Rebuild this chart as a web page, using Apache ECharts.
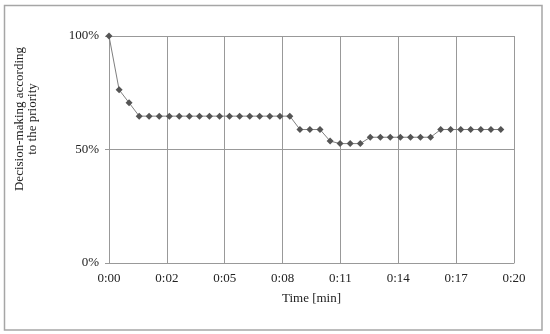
<!DOCTYPE html>
<html>
<head>
<meta charset="utf-8">
<script src="https://cdn.jsdelivr.net/npm/echarts@6/dist/echarts.min.js"></script>
<style>html,body{margin:0;padding:0;background:#fff;}#c{width:550px;height:334px;}</style>
</head>
<body>
<div id="c"></div>
<script>
// time of each observation, minutes
var times = [0, 0.50, 0.99, 1.49, 1.98, 2.48, 2.98, 3.47, 3.97, 4.47,
             4.96, 5.46, 5.95, 6.45, 6.95, 7.44, 7.94, 8.44, 8.93, 9.43,
             9.92, 10.42, 10.92, 11.41, 11.91, 12.41, 12.90, 13.40, 13.89, 14.39,
             14.89, 15.38, 15.88, 16.38, 16.87, 17.37, 17.86, 18.36, 18.86, 19.35];
// decision-making according to the priority, %
var shares = [100, 76.3, 70.6, 64.7, 64.7, 64.7, 64.7, 64.7, 64.7, 64.7,
              64.7, 64.7, 64.7, 64.7, 64.7, 64.7, 64.7, 64.7, 64.7, 58.8,
              58.8, 58.8, 53.7, 52.6, 52.6, 52.6, 55.4, 55.4, 55.4, 55.4,
              55.4, 55.4, 55.4, 58.8, 58.8, 58.8, 58.8, 58.8, 58.8, 58.8];
var xMin = 0, xMax = 20, xSteps = 7;
var yTicks = [0, 50, 100];
var xTitle = 'Time [min]';
var yTitleLines = ['Decision-making according', 'to the priority'];

var data = times.map(function (t, i) { return [t, shares[i]]; });
var font = 'Liberation Serif';
var chart = echarts.init(document.getElementById('c'));
chart.setOption({
  animation: false,
  backgroundColor: '#fff',
  grid: { left: 109, right: 36, top: 36, bottom: 71, containLabel: false },
  graphic: [
    { type: 'rect', shape: { x: 4.5, y: 5.5, width: 537.5, height: 324.5 },
      style: { fill: 'none', stroke: '#a6a6a6', lineWidth: 1.5 }, silent: true },
    { type: 'text', x: 26, y: 119, rotation: Math.PI / 2,
      style: { text: yTitleLines.join('\n'), font: '13px "' + font + '"', fill: '#222',
               align: 'center', verticalAlign: 'middle', lineHeight: 13 } }
  ],
  xAxis: {
    type: 'value', min: xMin, max: xMax, interval: (xMax - xMin) / xSteps,
    name: xTitle, nameLocation: 'middle', nameGap: 29,
    nameTextStyle: { fontFamily: font, fontSize: 13, color: '#222' },
    axisLine: { show: true, lineStyle: { color: '#999', width: 1 } },
    axisTick: { show: false },
    axisLabel: { fontFamily: font, fontSize: 13, color: '#222', margin: 9,
      formatter: function (v) { var m = Math.floor(v + 1e-6); return '0:' + (m < 10 ? '0' + m : m); } },
    splitLine: { show: true, lineStyle: { color: '#999', width: 1 } }
  },
  yAxis: {
    type: 'value', min: yTicks[0], max: yTicks[yTicks.length - 1], interval: yTicks[1] - yTicks[0],
    axisLine: { show: true, lineStyle: { color: '#999', width: 1 } },
    axisTick: { show: true, length: 4, lineStyle: { color: '#999' } },
    axisLabel: { fontFamily: font, fontSize: 13, color: '#222', margin: 10, formatter: '{value}%' },
    splitLine: { show: true, lineStyle: { color: '#999', width: 1 } }
  },
  series: [{
    type: 'line', data: data,
    symbol: 'diamond', symbolSize: 7, showSymbol: true,
    lineStyle: { color: '#7f7f7f', width: 1 },
    itemStyle: { color: '#555555', borderWidth: 0 }
  }]
});
</script>
</body>
</html>
